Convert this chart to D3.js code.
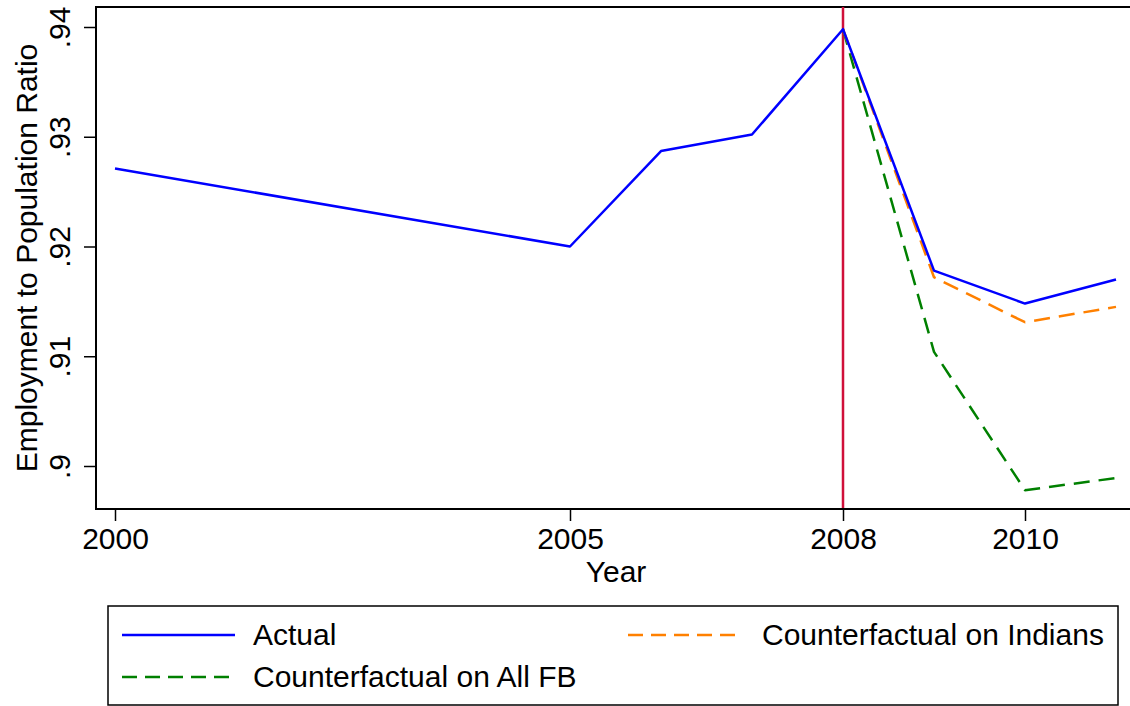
<!DOCTYPE html>
<html><head><meta charset="utf-8">
<script src="https://cdn.jsdelivr.net/npm/d3@7/dist/d3.min.js"></script>
<style>
html,body{margin:0;padding:0;background:#fff;}
svg text{font-family:"Liberation Sans",Arial,Helvetica,sans-serif;fill:#000;}
</style></head><body>
<svg id="chart" width="1130" height="706"></svg>
<script>
const years = [2000, 2005, 2006, 2007, 2008, 2009, 2010, 2011];
const actual = [0.9271, 0.9200, 0.9287, 0.9302, 0.9398, 0.9178, 0.9148, 0.9170];
const cfYears = [2008, 2009, 2010, 2011];
const cfIndians = [0.9398, 0.9172, 0.9131, 0.9145];
const cfAllFB = [0.9398, 0.9104, 0.8978, 0.8989];
const xTicks = [2000, 2005, 2008, 2010];
const yTicks = [0.90, 0.91, 0.92, 0.93, 0.94];
const yTickLabels = [".9", ".91", ".92", ".93", ".94"];
const legendLabels = ["Actual", "Counterfactual on Indians", "Counterfactual on All FB"];
const eventYear = 2008;

const FS = 30;
const svg = d3.select("#chart");
const L = 96, R = 1130, T = 7, B = 509;
const x = d3.scaleLinear().domain([2000, 2010]).range([115, 1025]);
const y = d3.scaleLinear().domain([0.90, 0.94]).range([466, 27]);

// frame line at top
svg.append("line").attr("x1", L).attr("x2", R).attr("y1", T).attr("y2", T)
  .attr("stroke", "#000").attr("stroke-width", 2);

// event line
svg.append("line").attr("x1", x(eventYear)).attr("x2", x(eventYear))
  .attr("y1", T).attr("y2", B).attr("stroke", "#d0103a").attr("stroke-width", 2.5);

// axes
const xAxis = svg.append("g").attr("transform", `translate(0,${B})`)
  .call(d3.axisBottom(x).tickValues(xTicks).tickSize(12).tickFormat(d3.format("d")));
xAxis.select(".domain").remove();
xAxis.selectAll(".tick line").attr("stroke", "#000").attr("stroke-width", 1.5);
xAxis.selectAll(".tick text").attr("y", 40).attr("dy", 0).attr("font-size", FS)
  .style("font-family", '"Liberation Sans",Arial,sans-serif').attr("fill", "#000");
svg.append("line").attr("x1", L).attr("x2", R).attr("y1", B).attr("y2", B)
  .attr("stroke", "#000").attr("stroke-width", 2);

const yAxis = svg.append("g").attr("transform", `translate(${L},0)`)
  .call(d3.axisLeft(y).tickValues(yTicks).tickSize(12)
    .tickFormat((d, i) => yTickLabels[i]));
yAxis.select(".domain").remove();
yAxis.selectAll(".tick line").attr("stroke", "#000").attr("stroke-width", 1.5);
yAxis.selectAll(".tick text").attr("x", 0).attr("dy", 0)
  .attr("transform", "translate(-26,0) rotate(-90)")
  .attr("text-anchor", "middle").attr("font-size", FS)
  .style("font-family", '"Liberation Sans",Arial,sans-serif').attr("fill", "#000");
svg.append("line").attr("x1", L).attr("x2", L).attr("y1", T - 1).attr("y2", B + 1)
  .attr("stroke", "#000").attr("stroke-width", 2);

// axis titles
svg.append("text").attr("x", 616).attr("y", 582).attr("text-anchor", "middle")
  .attr("font-size", FS).text("Year");
svg.append("text").attr("transform", "translate(37,258) rotate(-90)")
  .attr("text-anchor", "middle").attr("font-size", FS).text("Employment to Population Ratio");

// series
const line = d3.line().x(d => x(d[0])).y(d => y(d[1]));
const series = [
  {data: d3.zip(years, actual), color: "#0000ff", dash: null},
  {data: d3.zip(cfYears, cfIndians), color: "#ff8000", dash: "16,9"},
  {data: d3.zip(cfYears, cfAllFB), color: "#008000", dash: "16,9"}
];
[series[2], series[1], series[0]].forEach(s => {
  svg.append("path").datum(s.data).attr("d", line).attr("fill", "none")
    .attr("stroke", s.color).attr("stroke-width", 2.5)
    .attr("stroke-linejoin", "round")
    .attr("stroke-dasharray", s.dash);
});

// legend
svg.append("rect").attr("x", 108).attr("y", 606).attr("width", 1010).attr("height", 99)
  .attr("fill", "none").attr("stroke", "#000").attr("stroke-width", 1.5);
const legPos = [[122, 635, 253], [628, 635, 762], [122, 677, 253]];
series.forEach((s, i) => {
  const [lx, ly, tx] = legPos[i];
  svg.append("line").attr("x1", lx).attr("x2", lx + 113).attr("y1", ly).attr("y2", ly)
    .attr("stroke", s.color).attr("stroke-width", 2.5).attr("stroke-dasharray", s.dash ? "15,8" : null);
  svg.append("text").attr("x", tx).attr("y", ly + 10).attr("font-size", FS)
    .text(legendLabels[i]);
});
</script>
</body></html>
